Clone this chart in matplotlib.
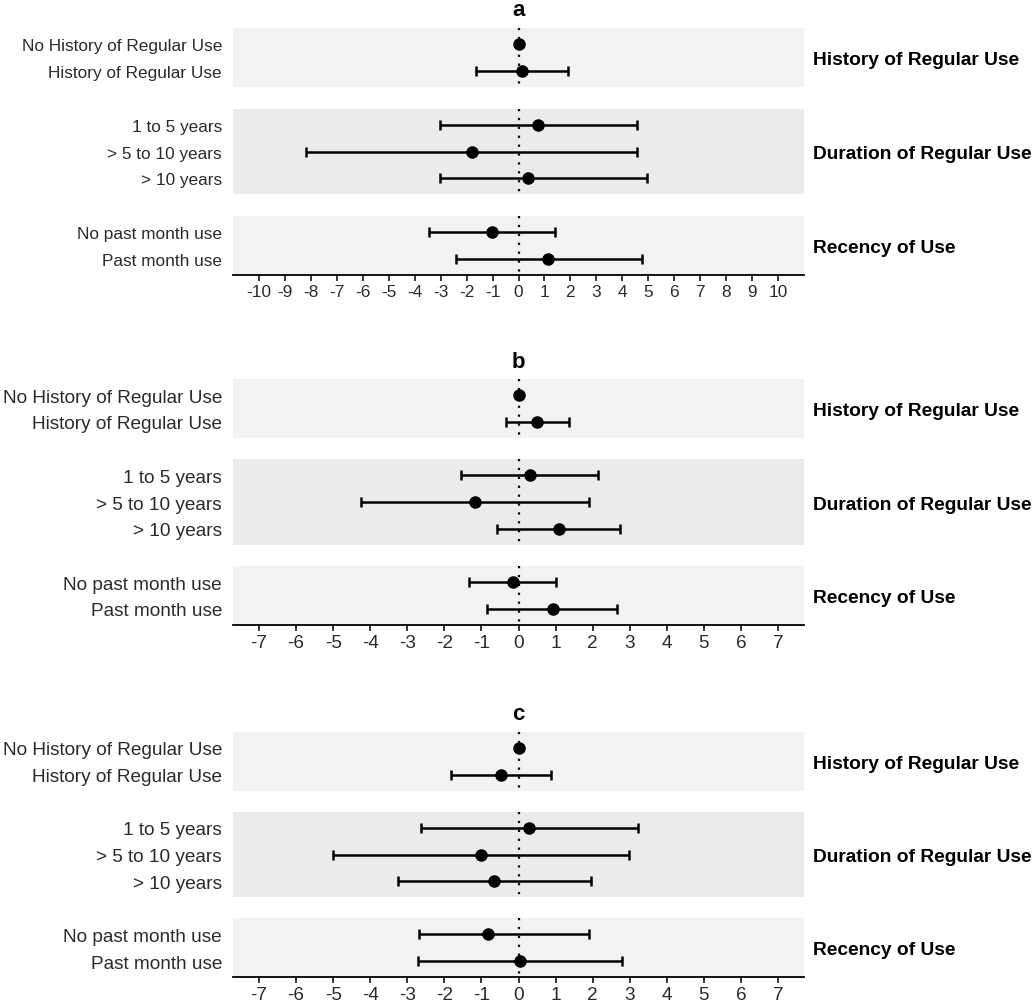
"""
Forest plots (panels a, b, c): estimates with 95% CIs by cannabis-use
history, duration and recency, grouped into shaded facets.
"""

import numpy as np
import matplotlib.pyplot as plt

plt.rcParams["font.family"] = ["Liberation Sans", "DejaVu Sans"]

W, H = 1034, 1004

row_labels = [
    "No History of Regular Use",
    "History of Regular Use",
    "1 to 5 years",
    "> 5 to 10 years",
    "> 10 years",
    "No past month use",
    "Past month use",
]
group_labels = ["History of Regular Use", "Duration of Regular Use", "Recency of Use"]
group_sizes = [2, 3, 2]

nan = np.nan
a_est = [0.0, 0.14, 0.77, -1.81, 0.38, -1.04, 1.15]
a_lo = [nan, -1.64, -3.02, -8.17, -3.02, -3.46, -2.42]
a_hi = [nan, 1.91, 4.58, 4.57, 4.97, 1.40, 4.75]

b_est = [0.0, 0.51, 0.30, -1.18, 1.09, -0.16, 0.92]
b_lo = [nan, -0.35, -1.54, -4.26, -0.58, -1.34, -0.84]
b_hi = [nan, 1.37, 2.14, 1.91, 2.75, 1.02, 2.66]

c_est = [0.0, -0.48, 0.29, -1.01, -0.65, -0.83, 0.04]
c_lo = [nan, -1.81, -2.63, -4.99, -3.26, -2.68, -2.71]
c_hi = [nan, 0.88, 3.21, 2.98, 1.96, 1.91, 2.78]

a_ticks = list(range(-10, 11))
bc_ticks = list(range(-7, 8))

band_colors = ["#f2f2f2", "#ebebeb", "#f2f2f2"]
TEXT = "#2b2b2b"


def row_positions():
    """Rows one unit apart, with a two-unit step between groups."""
    pos, y = [], 0
    for size in group_sizes:
        for _ in range(size):
            pos.append(y)
            y += 1
        y += 1
    return np.array(pos, dtype=float)


def draw_panel(fig, top_px, bottom_px, letter, est, lo, hi, ticks, xlim, fsize):
    left_px, right_px = 233, 804
    ax = fig.add_axes([
        left_px / W,
        1 - bottom_px / H,
        (right_px - left_px) / W,
        (bottom_px - top_px) / H,
    ])
    ypos = row_positions()
    est, lo, hi = np.array(est), np.array(lo), np.array(hi)

    # shaded facet bands, zero line only inside each band
    start = 0
    for g, size in enumerate(group_sizes):
        y0 = ypos[start] - 0.6
        y1 = ypos[start + size - 1] + 0.6
        ax.axhspan(y0, y1, color=band_colors[g], lw=0, zorder=0)
        ax.plot([0, 0], [y0, y1], ls=(0, (1, 3)), color="black", lw=1.6, zorder=1)
        ax.text(1 + 9 / (right_px - left_px), (y0 + y1) / 2, group_labels[g],
                transform=ax.get_yaxis_transform(), ha="left",
                va="center_baseline", fontsize=13.8, fontweight="bold",
                color="black")
        start += size

    ok = ~np.isnan(lo)
    ax.errorbar(est[ok], ypos[ok], xerr=[est[ok] - lo[ok], hi[ok] - est[ok]],
                fmt="none", ecolor="black", elinewidth=1.8, capsize=3.3,
                capthick=1.8, zorder=2)
    ax.plot(est, ypos, "o", color="black", ms=8, zorder=3)

    ax.set_xlim(*xlim)
    ax.set_ylim(ypos[-1] + 0.6, ypos[0] - 0.6)
    ax.set_xticks(ticks)
    ax.set_xticklabels([str(t) for t in ticks])
    ax.set_yticks(ypos)
    ax.set_yticklabels(row_labels)
    ax.tick_params(axis="y", length=0, pad=8, labelsize=fsize, labelcolor=TEXT)
    ax.tick_params(axis="x", length=4, width=1.1, pad=2.5, labelsize=fsize,
                   labelcolor=TEXT, color="black")
    for side in ["top", "right", "left"]:
        ax.spines[side].set_visible(False)
    ax.spines["bottom"].set_linewidth(1.3)
    ax.set_title(letter, fontsize=16, fontweight="bold", pad=9)
    ax.set_facecolor("white")
    return ax


def main():
    fig = plt.figure(figsize=(W / 100, H / 100), dpi=100)
    draw_panel(fig, 29, 276, "a", a_est, a_lo, a_hi, a_ticks, (-11, 11), 12.4)
    draw_panel(fig, 380, 626, "b", b_est, b_lo, b_hi, bc_ticks, (-7.7, 7.7), 13.7)
    draw_panel(fig, 733, 978, "c", c_est, c_lo, c_hi, bc_ticks, (-7.7, 7.7), 13.7)
    fig.savefig("out.png", dpi=100)
    plt.close(fig)


if __name__ == "__main__":
    main()
